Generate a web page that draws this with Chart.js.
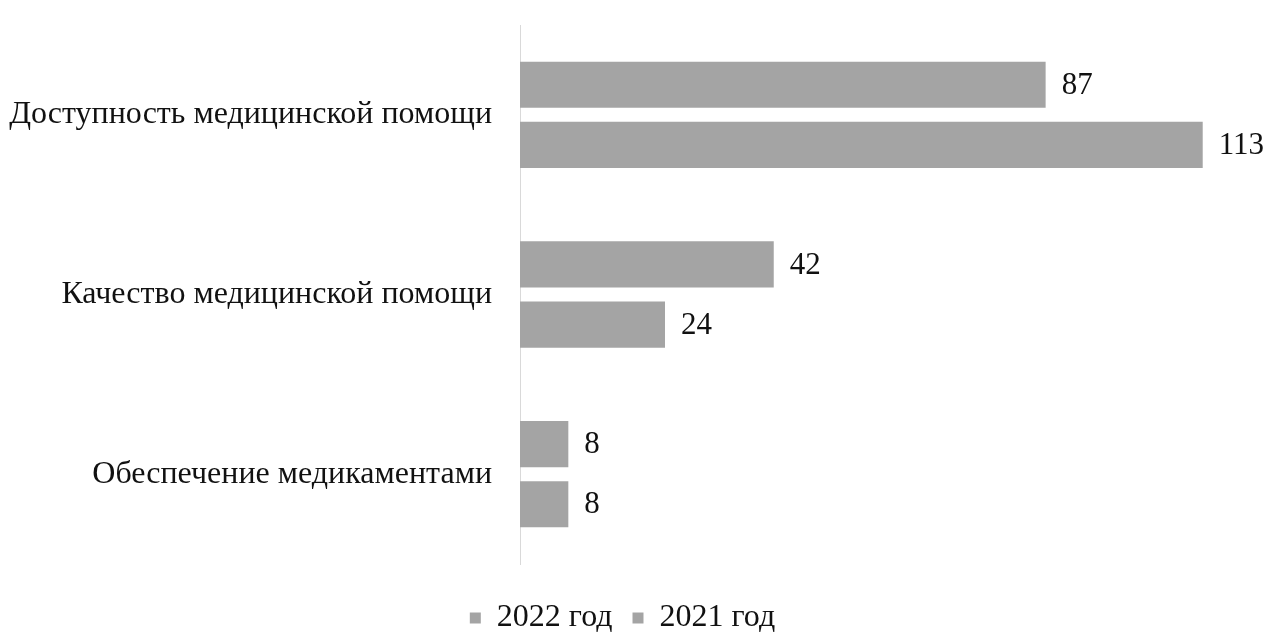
<!DOCTYPE html>
<html>
<head>
<meta charset="utf-8">
<script src="https://cdn.jsdelivr.net/npm/chart.js@4/dist/chart.umd.min.js"></script>
<style>
  html, body { margin: 0; padding: 0; background: #fff; }
  #wrap { width: 1270px; height: 632px; }
</style>
</head>
<body>
<div id="wrap"><canvas id="chart"></canvas></div>
<script>
const categories = ['Доступность медицинской помощи', 'Качество медицинской помощи', 'Обеспечение медикаментами'];
const seriesNames = ['2022 год', '2021 год'];
const values2022 = [87, 42, 8];
const values2021 = [113, 24, 8];

const barColor = '#a4a4a4';
const fontFamily = '"Liberation Serif", "Times New Roman", serif';

// value labels to the right of each bar
const valueLabels = {
  id: 'valueLabels',
  afterDatasetsDraw(chart) {
    const ctx = chart.ctx;
    ctx.save();
    ctx.font = '31px ' + fontFamily;
    ctx.fillStyle = '#111';
    ctx.textAlign = 'left';
    ctx.textBaseline = 'middle';
    chart.data.datasets.forEach((ds, i) => {
      chart.getDatasetMeta(i).data.forEach((bar, j) => {
        ctx.fillText(ds.data[j], bar.x + 16, bar.y + 1);
      });
    });
    ctx.restore();
  }
};

new Chart(document.getElementById('chart'), {
  type: 'bar',
  data: {
    labels: categories,
    datasets: [
      { label: seriesNames[0], data: values2022, backgroundColor: barColor },
      { label: seriesNames[1], data: values2021, backgroundColor: barColor }
    ]
  },
  options: {
    indexAxis: 'y',
    responsive: true,
    maintainAspectRatio: false,
    animation: false,
    categoryPercentage: 0.67,
    barPercentage: 0.767,
    layout: { padding: { top: 25, right: 25, bottom: -12, left: 0 } },
    plugins: {
      legend: {
        position: 'bottom',
        labels: {
          boxWidth: 11,
          boxHeight: 11,
          padding: 20,
          color: '#111',
          font: { family: fontFamily, size: 32 }
        }
      },
      tooltip: { enabled: false }
    },
    scales: {
      x: {
        min: 0,
        max: 120,
        grid: { display: false },
        border: { display: false },
        ticks: { display: false },
        afterFit(scale) { scale.height = 18; }
      },
      y: {
        grid: { display: false, drawTicks: false },
        border: { display: true, color: '#d9d9d9', width: 1 },
        ticks: {
          padding: 28,
          color: '#111',
          font: { family: fontFamily, size: 32 }
        },
        afterFit(scale) {
          scale.width = 520;
          scale.paddingTop = 0;
          scale.paddingBottom = 0;
        }
      }
    }
  },
  plugins: [valueLabels]
});
</script>
</body>
</html>
